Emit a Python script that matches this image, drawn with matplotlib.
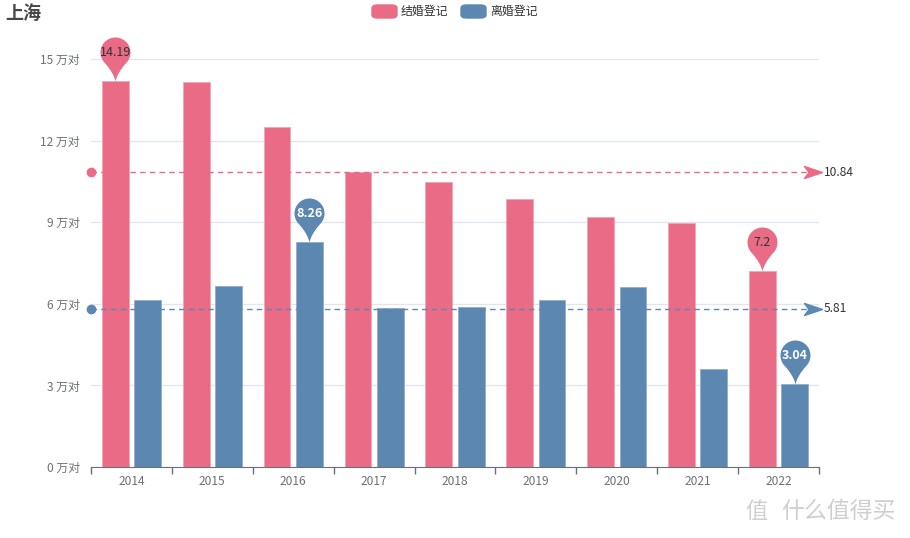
import numpy as np
import matplotlib
matplotlib.use("Agg")
import matplotlib.pyplot as plt
from matplotlib.path import Path
from matplotlib.patches import FancyBboxPatch

plt.rcParams['font.family'] = ['Noto Sans CJK SC', 'DejaVu Sans']

# data (万对)
years = ['2014', '2015', '2016', '2017', '2018', '2019', '2020', '2021', '2022']
marriage = [14.19, 14.15, 12.5, 10.86, 10.48, 9.85, 9.19, 8.97, 7.2]
divorce = [6.14, 6.64, 8.26, 5.85, 5.88, 6.15, 6.63, 3.6, 3.04]
marriage_avg = 10.84
divorce_avg = 5.81
yticks = [0, 3, 6, 9, 12, 15]
pins_m = [(0, 14.19), (8, 7.2)]
pins_d = [(2, 8.26), (8, 3.04)]

pink = '#EA6B86'
blue = '#5B87B1'
grey = '#6E7079'

# pin marker: tip at origin, round head above
def pin_path(r=15.0, d=29.0):
    th = np.arccos(r / d)
    a0 = -np.pi / 2 + th * 0.75
    a1 = 3 * np.pi / 2 - th * 0.75
    ang = np.linspace(a0, a1, 60)
    head = np.column_stack([r * np.cos(ang), d + r * np.sin(ang)])
    left = head[-1]
    right = head[0]
    verts = [(0, 0)]
    codes = [Path.MOVETO]
    verts += [(right[0] * 0.15, right[1] * 0.45), tuple(right)]
    codes += [Path.CURVE3, Path.CURVE3]
    for p in head[1:]:
        verts.append(tuple(p))
        codes.append(Path.LINETO)
    verts += [(left[0] * 0.15, left[1] * 0.45), (0, 0)]
    codes += [Path.CURVE3, Path.CURVE3]
    verts.append((0, 0))
    codes.append(Path.CLOSEPOLY)
    return Path(verts, codes)

PIN = pin_path()
PIN_SIZE = 2 * 44 * 0.72

fig = plt.figure(figsize=(9.1, 5.38), dpi=100)
ax = fig.add_axes([91 / 910, 71 / 538, 728 / 910, 408 / 538])

x = np.arange(len(years))
ax.bar(x - 0.2, marriage, width=0.33, color=pink, edgecolor='#F3A5B5', linewidth=0.6, zorder=3)
ax.bar(x + 0.2, divorce, width=0.33, color=blue, edgecolor='#8FAECB', linewidth=0.6, zorder=3)

ax.set_xlim(-0.5, len(years) - 0.5)
ax.set_ylim(0, 15)
ax.set_yticks(yticks)
ax.set_yticklabels([f'{v} 万对' for v in yticks], color=grey, fontsize=8.6)
ax.tick_params(axis='y', length=0, pad=8)
ax.yaxis.grid(True, color='#E0E6F1', linewidth=0.9, zorder=0)

ax.set_xticks(np.arange(-0.5, len(years), 1.0))
ax.set_xticklabels([])
ax.set_xticks(x, minor=True)
ax.set_xticklabels(years, minor=True, color=grey, fontsize=8.6)
ax.tick_params(axis='x', which='major', length=5, color=grey, width=1)
ax.tick_params(axis='x', which='minor', length=0, pad=6)

for s in ['top', 'right', 'left']:
    ax.spines[s].set_visible(False)
ax.spines['bottom'].set_color(grey)
ax.spines['bottom'].set_zorder(5)

# average lines
arrow = Path([(-6, -4), (6, 0), (-6, 4), (-3, 0), (-6, -4)],
             [Path.MOVETO, Path.LINETO, Path.LINETO, Path.LINETO, Path.CLOSEPOLY])
for val, col in [(marriage_avg, pink), (divorce_avg, blue)]:
    ax.plot([-0.5, len(years) - 0.55], [val, val], color=col, linestyle=(0, (4, 3)),
            linewidth=1, zorder=4, clip_on=False)
    ax.plot([-0.5], [val], marker='o', color=col, markersize=6, zorder=5, clip_on=False)
    ax.plot([len(years) - 0.58], [val], marker=arrow, color=col, markersize=13, zorder=5,
            clip_on=False)
    ax.text(len(years) - 0.44, val, f'{val:.2f}', va='center', ha='left', fontsize=8.6,
            color='#333333', clip_on=False)

# pin markers
for (i, v) in pins_m:
    ax.plot([i - 0.2], [v], marker=PIN, markersize=PIN_SIZE, color=pink, zorder=6,
            clip_on=False, markeredgewidth=0)
    ax.annotate(f'{v:g}', (i - 0.2, v), xytext=(0, 29 * 0.72), textcoords='offset points',
                ha='center', va='center', fontsize=9, color='#333333', zorder=7)
for (i, v) in pins_d:
    ax.plot([i + 0.2], [v], marker=PIN, markersize=PIN_SIZE, color=blue, zorder=6,
            clip_on=False, markeredgewidth=0)
    ax.annotate(f'{v:g}', (i + 0.2, v), xytext=(0, 29 * 0.72), textcoords='offset points',
                ha='center', va='center', fontsize=9, color='white', fontweight='bold', zorder=7)

# title and legend
fig.text(5 / 910, 1 - 13 / 538, '上海', fontsize=13, fontweight='bold', color='#464646',
         ha='left', va='center')
for x0, col, lab in [(372, pink, '结婚登记'), (461, blue, '离婚登记')]:
    fig.patches.append(FancyBboxPatch((x0 / 910, 1 - 18 / 538), 25 / 910, 13 / 538,
                                      boxstyle='round,pad=0,rounding_size=0.006',
                                      transform=fig.transFigure, color=col))
    fig.text((x0 + 29) / 910, 1 - 11 / 538, lab, fontsize=8.6, color='#333333',
             ha='left', va='center')

# watermark
fig.text(745 / 910, 1 - 511 / 538, '值', fontsize=16, color='#CFCFCF', ha='left', va='center')
fig.text(781 / 910, 1 - 511 / 538, '什么值得买', fontsize=16.5, color='#CFCFCF',
         ha='left', va='center')

fig.savefig('out.png', dpi=100)
